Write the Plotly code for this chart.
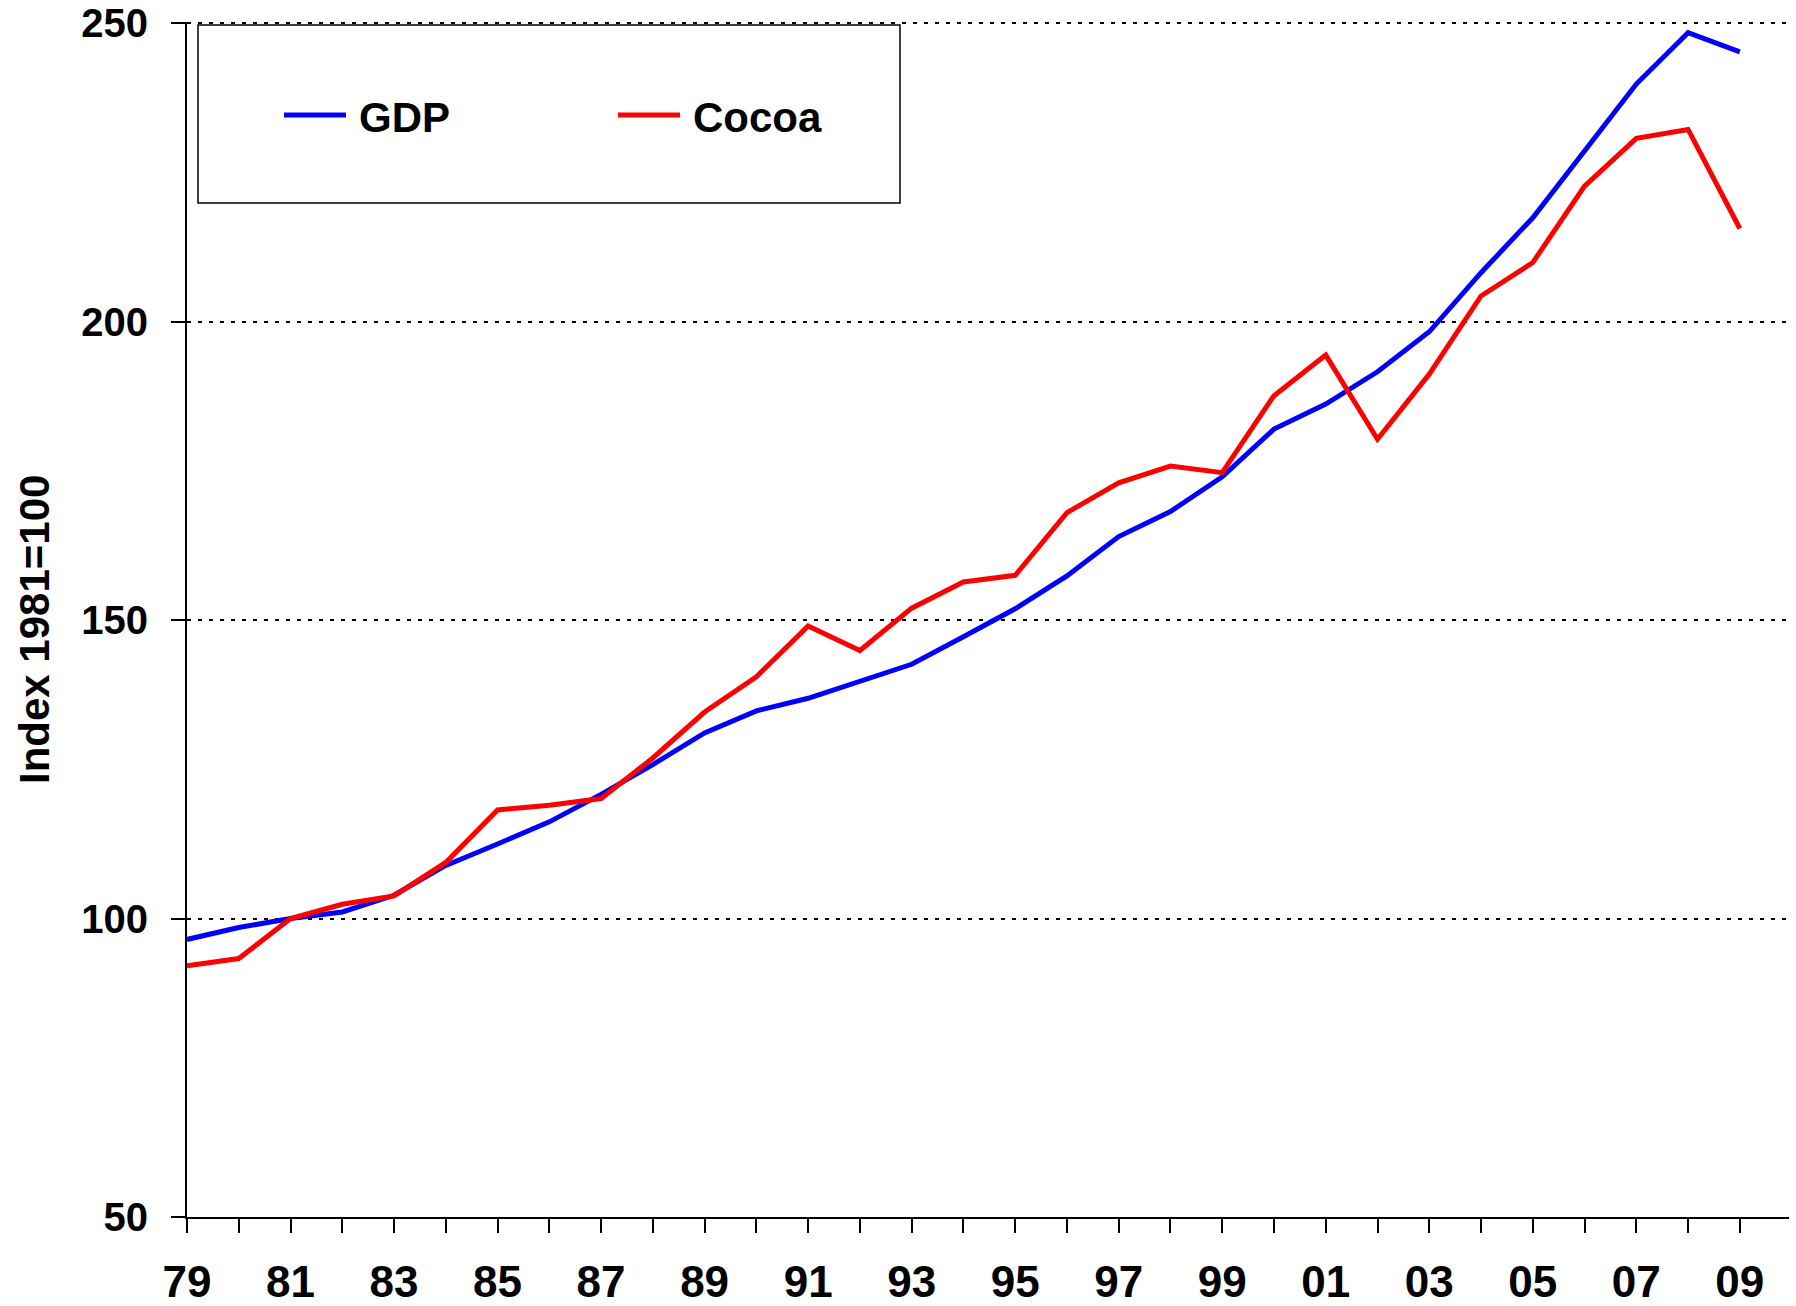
import plotly.graph_objects as go

years = list(range(1979, 2010))
gdp = [96.5, 98.5, 100.0, 101.1, 103.9, 108.9, 112.5, 116.2, 120.8, 125.8,
       131.1, 134.8, 136.9, 139.7, 142.6, 147.2, 151.9, 157.4, 164.0, 168.2,
       174.0, 182.0, 186.2, 191.6, 198.3, 208.2, 217.4, 228.6, 239.8, 248.4, 245.2]
cocoa = [92.1, 93.3, 100.0, 102.4, 103.8, 109.4, 118.2, 119.0, 120.1, 126.9,
         134.6, 140.5, 149.0, 144.9, 152.0, 156.4, 157.5, 168.0, 173.0, 175.8,
         174.7, 187.6, 194.4, 180.3, 191.2, 204.3, 209.9, 222.7, 230.7, 232.2, 215.6]
x_tick_labels = [f"{y % 100:02d}" if (y - 1979) % 2 == 0 else "" for y in years]
y_ticks = [50, 100, 150, 200, 250]
series_names = ["GDP", "Cocoa"]
series_colors = ["#0000FF", "#FF0000"]
y_title = "Index 1981=100"

FONT = "Liberation Sans, Arial, sans-serif"

# body margin removed via post_script, so figure fills the 1796x1306 window
W, H = 1796, 1306
ML, MR, MT, MB = 187, 7, 22, 89
PW, PH = W - ML - MR, H - MT - MB


def px_x(p):  # page pixel -> paper coordinate
    return (p - ML) / PW


def px_y(p):
    return (H - MB - p) / PH


fig = go.Figure()
for name, vals, col in zip(series_names, [gdp, cocoa], series_colors):
    fig.add_trace(go.Scatter(x=years, y=vals, mode="lines", name=name,
                             line=dict(color=col, width=5), showlegend=False))

# legend box (manual, to match reference layout)
fig.add_shape(type="rect", xref="paper", yref="paper",
              x0=px_x(198), x1=px_x(900), y0=px_y(203), y1=px_y(25),
              line=dict(color="black", width=1.5), fillcolor="white", layer="above")
leg_items = [(284, 346, 357), (618, 680, 691)]
for (lx0, lx1, tx), name, col in zip(leg_items, series_names, series_colors):
    fig.add_shape(type="line", xref="paper", yref="paper",
                  x0=px_x(lx0), x1=px_x(lx1), y0=px_y(115), y1=px_y(115),
                  line=dict(color=col, width=5), layer="above")
    fig.add_annotation(xref="paper", yref="paper", x=px_x(tx), y=px_y(117),
                       text=f"<b>{name}</b>", showarrow=False,
                       xanchor="left", yanchor="middle",
                       font=dict(family=FONT, size=42, color="black"))

# y-axis title
fig.add_annotation(xref="paper", yref="paper", x=px_x(34), y=px_y(630),
                   text=f"<b>{y_title}</b>", showarrow=False, textangle=-90,
                   xanchor="center", yanchor="middle",
                   font=dict(family=FONT, size=42, color="black"))

fig.update_layout(
    width=W, height=H,
    margin=dict(l=ML, r=MR, t=MT, b=MB, autoexpand=False),
    paper_bgcolor="white", plot_bgcolor="white",
    font=dict(family=FONT, color="black"),
)
fig.update_xaxes(
    range=[1979, 2009.95], tickvals=years, ticktext=x_tick_labels,
    ticks="outside", ticklen=14, tickwidth=2, tickcolor="black",
    showline=True, linewidth=2, linecolor="black",
    showgrid=False, zeroline=False, automargin=False,
    tickfont=dict(family=FONT, size=44, color="black", weight="bold"),
    ticklabelstandoff=11, ticklabeloverflow="allow",
)
fig.update_yaxes(
    range=[50, 250.2], tickvals=y_ticks,
    ticks="outside", ticklen=14, tickwidth=2, tickcolor="black",
    showline=True, linewidth=2, linecolor="black",
    showgrid=True, gridcolor="black", gridwidth=2, griddash="4px,7px",
    zeroline=False, automargin=False,
    tickfont=dict(family=FONT, size=40, color="black", weight="bold"),
    ticklabelstandoff=15, ticklabeloverflow="allow",
)

fig.write_html(
    "out.html",
    config={"displayModeBar": False},
    post_script="document.body.style.margin='0';document.body.style.overflow='hidden';",
)
